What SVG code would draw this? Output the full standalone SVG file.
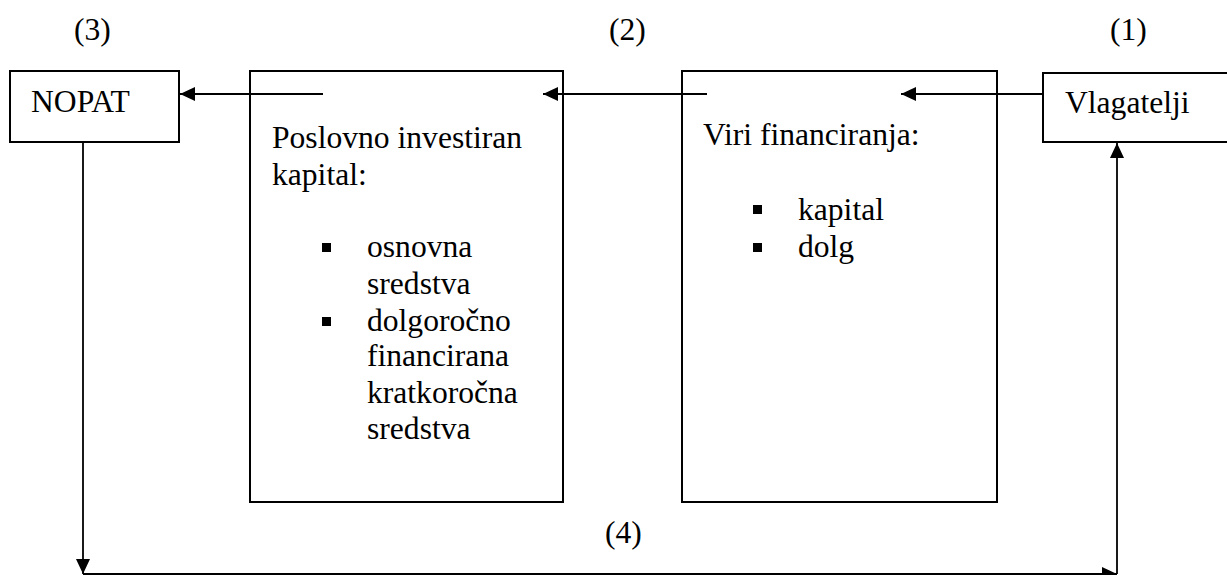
<svg xmlns="http://www.w3.org/2000/svg" width="1227" height="575" viewBox="0 0 1227 575">
<style>
text{font-family:"Liberation Serif","Times New Roman",serif;font-size:31.6px;fill:#000}
.box{fill:#fff;stroke:#000;stroke-width:2}
.ln{fill:none;stroke:#000;stroke-width:1.8}
.blt{fill:#000}
</style>
<defs>
<marker id="ah" markerUnits="userSpaceOnUse" markerWidth="16" markerHeight="14" refX="15" refY="7" orient="auto">
<path d="M0,0 L15,7 L0,14 Z" fill="#000"/>
</marker>
</defs>
<rect width="1227" height="575" fill="#fff"/>
<g id="labels">
<text x="74" y="40">(3)</text>
<text x="609" y="40">(2)</text>
<text x="1110" y="40">(1)</text>
<text x="605" y="543">(4)</text>
</g>
<g id="nopat">
<rect class="box" x="10" y="71" width="169" height="71"/>
<text x="31" y="112">NOPAT</text>
</g>
<g id="kapital">
<rect class="box" x="250" y="71" width="313" height="431"/>
<text x="272" y="148">Poslovno investiran</text>
<text x="272" y="185">kapital:</text>
<rect class="blt" x="322" y="243" width="9" height="9"/>
<text x="367" y="257">osnovna</text>
<text x="367" y="294">sredstva</text>
<rect class="blt" x="322" y="317" width="9" height="9"/>
<text x="367" y="331">dolgoročno</text>
<text x="367" y="366">financirana</text>
<text x="367" y="403">kratkoročna</text>
<text x="367" y="439">sredstva</text>
</g>
<g id="viri">
<rect class="box" x="682" y="71" width="315" height="431"/>
<text x="703" y="145">Viri financiranja:</text>
<rect class="blt" x="753" y="205" width="9" height="9"/>
<text x="798" y="220">kapital</text>
<rect class="blt" x="753" y="243" width="9" height="9"/>
<text x="798" y="257">dolg</text>
</g>
<g id="vlagatelji">
<rect class="box" x="1043" y="73" width="200" height="69"/>
<text x="1065" y="113">Vlagatelji</text>
</g>
<g id="connectors">
<line class="ln" x1="323" y1="94" x2="180" y2="94" marker-end="url(#ah)"/>
<line class="ln" x1="707" y1="94" x2="543" y2="94" marker-end="url(#ah)"/>
<line class="ln" x1="1043" y1="94" x2="901" y2="94" marker-end="url(#ah)"/>
<line class="ln" x1="83" y1="142" x2="83" y2="574" marker-end="url(#ah)"/>
<line class="ln" x1="83" y1="574" x2="1117" y2="574" marker-end="url(#ah)"/>
<line class="ln" x1="1117" y1="574" x2="1117" y2="143" marker-end="url(#ah)"/>
</g>
</svg>
